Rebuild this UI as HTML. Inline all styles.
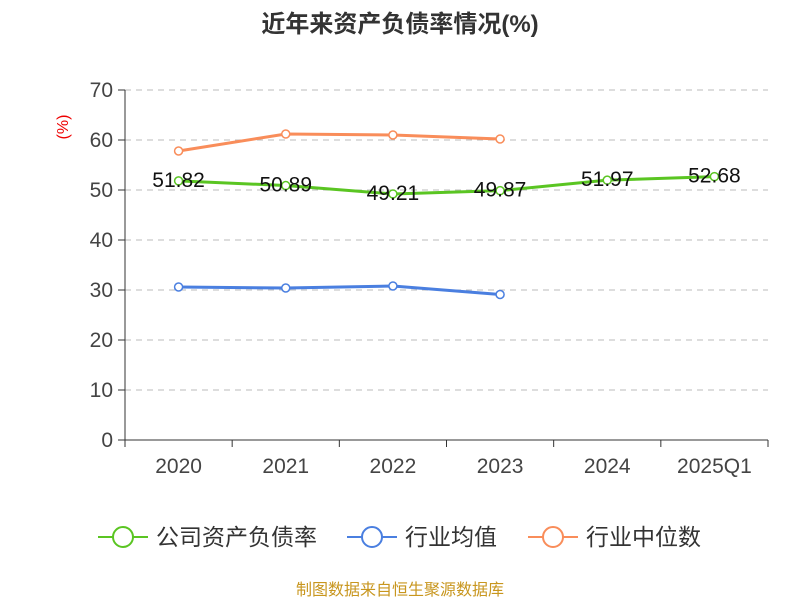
<!DOCTYPE html>
<html><head><meta charset="utf-8"><style>
body{margin:0;background:#fff;font-family:"Liberation Sans","Noto Sans CJK SC",sans-serif}
</style></head><body>
<svg id="chart" width="800" height="600" xmlns="http://www.w3.org/2000/svg" font-family="Liberation Sans, Noto Sans CJK SC, sans-serif"></svg>
<script>
const categories=["2020","2021","2022","2023","2024","2025Q1"];
const companyValues=[51.82,50.89,49.21,49.87,51.97,52.68];
const industryAvg=[30.6,30.4,30.8,29.1];
const industryMedian=[57.8,61.2,61.0,60.2];
const yTicks=[0,10,20,30,40,50,60,70];
const NS="http://www.w3.org/2000/svg";
const svg=document.getElementById('chart');
const x0=125,x1=768,y0=440,y1=90,yMax=70;
const bw=(x1-x0)/categories.length;
const X=i=>x0+bw*(i+0.5);
const Y=v=>y0-(v/yMax)*(y0-y1);
function mk(t,a,p){const e=document.createElementNS(NS,t);for(const k in a)e.setAttribute(k,a[k]);(p||svg).appendChild(e);return e;}
let t=mk('text',{x:400,y:32,'text-anchor':'middle','font-size':24,'font-weight':'bold',fill:'#333'});t.textContent='近年来资产负债率情况(%)';


t=mk('text',{x:68,y:127,'text-anchor':'middle','font-size':16,fill:'#e00',transform:'rotate(-90 68 127)'});t.textContent='(%)';


yTicks.forEach(v=>{
  const y=Y(v);
  if(v>0){const g=mk('line',{x1:x0,x2:x1,y1:y,y2:y,stroke:'#bbb','stroke-dasharray':'6,5'});
  
  }
  mk('line',{x1:x0-7,x2:x0,y1:y,y2:y,stroke:'#333'});
  const l=mk('text',{x:x0-12,y:y+7,'text-anchor':'end','font-size':21,fill:'#444'});l.textContent=v;
  
  
});
mk('line',{x1:x0,x2:x0,y1:y1,y2:y0,stroke:'#333'});
mk('line',{x1:x0,x2:x1,y1:y0,y2:y0,stroke:'#333'});
categories.forEach((c,i)=>{
  mk('line',{x1:x0+bw*i,x2:x0+bw*i,y1:y0,y2:y0+7,stroke:'#333'});
  const l=mk('text',{x:X(i),y:473,'text-anchor':'middle','font-size':21,fill:'#444'});l.textContent=c;
  
  
});
mk('line',{x1:x1,x2:x1,y1:y0,y2:y0+7,stroke:'#333'});
function series(vals,color,name,labels){
  const pts=vals.map((v,i)=>X(i)+','+Y(v)).join(' ');
  const pl=mk('polyline',{points:pts,fill:'none',stroke:color,'stroke-width':3});
  
  
  vals.forEach((v,i)=>{
    const c=mk('circle',{cx:X(i),cy:Y(v),r:4,fill:'#fff',stroke:color,'stroke-width':1.5});
    
    
    if(labels){const l=mk('text',{x:X(i),y:Y(v)+6,'text-anchor':'middle','font-size':21,fill:'#111'});l.textContent=v.toFixed(2);
    
    }
  });
}
series(industryMedian,'#f98d5a','industry-median',false);
series(industryAvg,'#4a7fe0','industry-average',false);
series(companyValues,'#5ac522','company-debt-ratio',true);
const leg=[['公司资产负债率','#5ac522',98],['行业均值','#4a7fe0',347],['行业中位数','#f98d5a',528]];
leg.forEach(([n,c,x])=>{
  const g=mk('g',{});
  
  
  mk('line',{x1:x,x2:x+50,y1:537,y2:537,stroke:c,'stroke-width':2},g);
  mk('circle',{cx:x+25,cy:537,r:10,fill:'#fff',stroke:c,'stroke-width':2},g);
  const l=mk('text',{x:x+58,y:545,'font-size':23,fill:'#333'},g);l.textContent=n;
});
t=mk('text',{x:400,y:595,'text-anchor':'middle','font-size':16,fill:'#c8961e'});t.textContent='制图数据来自恒生聚源数据库';


</script>
</body></html>
